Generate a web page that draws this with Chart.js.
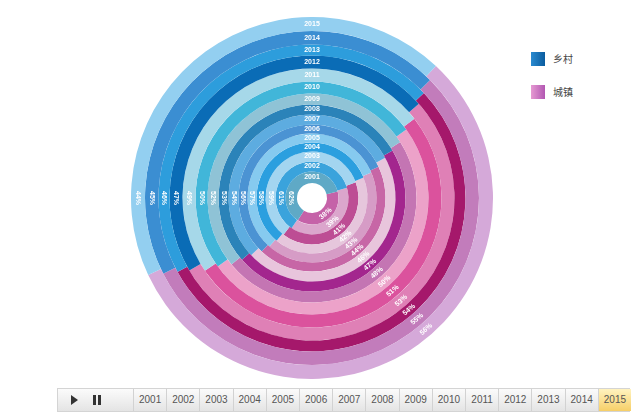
<!DOCTYPE html>
<html>
<head>
<meta charset="utf-8">
<script src="https://cdn.jsdelivr.net/npm/chart.js@4.4.1/dist/chart.umd.min.js"></script>
<style>
  html, body { margin: 0; padding: 0; background: #fff; }
  #wrap { position: relative; width: 640px; height: 415px; overflow: hidden; font-family: "Liberation Sans", Arial, sans-serif; }
  #rings { position: absolute; left: 131px; top: 17px; }
  .lg { position: absolute; left: 531px; height: 14px; line-height: 14px; font-size: 10px; color: #444; }
  .lg i { position: absolute; left: 0; top: 0; width: 14px; height: 14px; }
  .lg span { position: absolute; left: 22px; top: 0; white-space: nowrap; font-family: "Noto Sans CJK SC", sans-serif; }
  #bar { position: absolute; left: 57px; top: 388px; width: 571px; height: 22px; border: 1px solid #d4d4d4;
         background: linear-gradient(#fbfbfb, #e4e4e4); }
  #bar .cell { position: absolute; top: 0; height: 22px; line-height: 22px; text-align: center; font-size: 10px;
               color: #555; border-left: 1px solid #d2d2d2; box-sizing: border-box; }
  #bar .cell.on { background: linear-gradient(#fff3c0, #f6cf68); color: #555; }
  #play { position: absolute; left: 13px; top: 6px; width: 0; height: 0; border-top: 5px solid transparent;
          border-bottom: 5px solid transparent; border-left: 7px solid #333; }
  #pause { position: absolute; left: 35px; top: 6px; width: 2px; height: 10px; border-left: 3px solid #333; border-right: 3px solid #333; }
</style>
</head>
<body>
<div id="wrap">
  <canvas id="rings" width="362" height="362"></canvas>
  <div class="lg" style="top:52px"><i style="background:linear-gradient(90deg,#2a8ad0,#0b5c9e)"></i><span>乡村</span></div>
  <div class="lg" style="top:85px"><i style="background:linear-gradient(90deg,#e69ad2,#b257b2)"></i><span>城镇</span></div>
  <div id="bar"><div id="play"></div><div id="pause"></div></div>
</div>
<script>
// data, innermost ring (2001) to outermost ring (2015)
const years = ["2001", "2002", "2003", "2004", "2005", "2006", "2007", "2008",
               "2009", "2010", "2011", "2012", "2013", "2014", "2015"];
const rural = [62, 61, 59, 58, 57, 56, 54, 53, 52, 50, 49, 47, 46, 45, 44];   // 乡村 %
const urban = [38, 39, 41, 42, 43, 44, 46, 47, 48, 50, 51, 53, 54, 55, 56];   // 城镇 %

// ring colours, same order as years
const blues = ["#5fa9c6", "#3aa3dc", "#a3d5f0", "#2b9fdf", "#86caef", "#4b93d3", "#5dace0", "#2b83b9",
               "#8fc3d6", "#41b6d9", "#a6d8e9", "#0a6cb6", "#2d9ddc", "#3b8ed2", "#93cff0"];
const pinks = ["#c562a8", "#dba6cc", "#bd4d94", "#e6c6dc", "#d69cc6", "#c766a6", "#e8c5dc", "#a3268e",
               "#c475b3", "#eca2c9", "#db529d", "#df80b6", "#a5186b", "#c27cbb", "#d5a9d9"];
// ring thickness (relative), same order as years
const ringWeights = [11.5, 10, 10, 9, 9, 9, 10, 10, 11, 12, 13, 13, 11, 13.5, 14];

const urbanCenter = 54; // degrees clockwise from 3 o'clock
const labelShift = -5 * Math.PI / 180; // urban labels sit a little above the arc middle

// dataset 0 is the outermost ring in chart.js, so go from 2015 down to 2001
const datasets = [];
for (let i = years.length - 1; i >= 0; i--) {
    datasets.push({
        label: years[i],
        data: [urban[i], rural[i]],
        backgroundColor: [pinks[i], blues[i]],
        borderWidth: 0,
        weight: ringWeights[i],
        rotation: urbanCenter + 90 - urban[i] * 1.8
    });
}

// white labels: year on top, rural % on the left, urban % along the pink arc
const ringLabels = {
    id: "ringLabels",
    afterDatasetsDraw(chart) {
        const ctx = chart.ctx;
        ctx.save();
        ctx.fillStyle = "#fff";
        ctx.font = 'bold 7px "Liberation Sans", Arial, sans-serif';
        ctx.textAlign = "center";
        ctx.textBaseline = "middle";
        chart.data.datasets.forEach((ds, i) => {
            const arc = chart.getDatasetMeta(i).data[0];
            const p = arc.getProps(["x", "y", "startAngle", "endAngle", "innerRadius", "outerRadius"], true);
            const r = (p.innerRadius + p.outerRadius) / 2;

            ctx.fillText(ds.label, p.x, p.y - r);

            ctx.save();
            ctx.translate(p.x - r, p.y);
            ctx.rotate(Math.PI / 2);
            ctx.fillText(ds.data[1] + "%", 0, 0);
            ctx.restore();

            const a = (p.startAngle + p.endAngle) / 2 + labelShift;
            ctx.save();
            ctx.translate(p.x + r * Math.cos(a), p.y + r * Math.sin(a));
            ctx.rotate(a - Math.PI / 2);
            ctx.fillText(ds.data[0] + "%", 0, 0);
            ctx.restore();
        });
        ctx.restore();
    }
};

new Chart(document.getElementById("rings").getContext("2d"), {
    type: "doughnut",
    data: { labels: ["城镇", "乡村"], datasets: datasets },
    options: {
        responsive: false,
        animation: false,
        cutout: 15,
        layout: { padding: 0 },
        plugins: { legend: { display: false }, tooltip: { enabled: false } }
    },
    plugins: [ringLabels]
});

// timeline bar under the chart
const bar = document.getElementById("bar");
const cellW = 33.2;
years.forEach((y, i) => {
    const c = document.createElement("div");
    c.className = "cell" + (i === years.length - 1 ? " on" : "");
    c.style.left = (75 + i * cellW) + "px";
    c.style.width = cellW + "px";
    c.textContent = y;
    bar.appendChild(c);
});
</script>
</body>
</html>
